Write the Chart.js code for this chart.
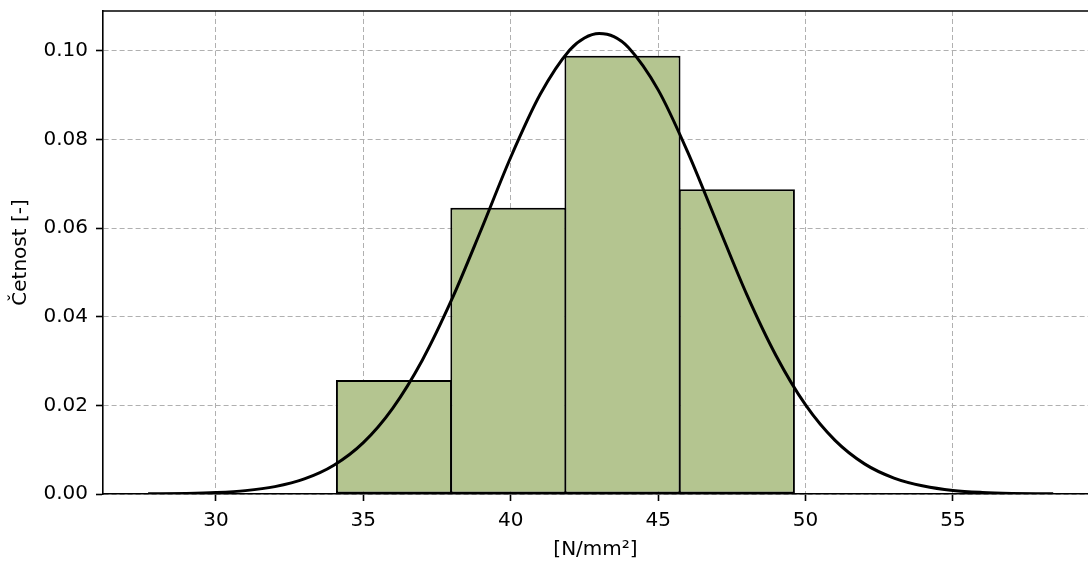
<!DOCTYPE html>
<html>
<head>
<meta charset="utf-8">
<script src="https://cdn.jsdelivr.net/npm/chart.js@4"></script>
<style>
  html, body { margin: 0; padding: 0; background: #fff; }
  #wrap { width: 1088px; height: 564px; position: relative; }
</style>
</head>
<body>
<div id="wrap"><canvas id="chart"></canvas></div>
<script>
/* ── Data ── */
// histogram bins: centres and relative frequency
const binCenters = [36.04, 39.92, 43.79, 47.67];
const binHeights = [0.0257, 0.0646, 0.0989, 0.0688];

// fitted density curve
const curveX = [27.7, 28, 29, 30, 31, 32, 33, 34, 35, 36, 37, 38, 39, 40, 41, 42, 42.5, 43,
                43.5, 44, 45, 46, 47, 48, 49, 50, 51, 52, 53, 54, 55, 56, 57, 58, 58.4];
const curveY = [0.00004, 0.00005, 0.00013, 0.00033, 0.00076, 0.00167, 0.00341, 0.0065, 0.0116,
                0.0194, 0.0302, 0.0439, 0.0597, 0.0760, 0.0902, 0.1002, 0.1029, 0.1039,
                0.1032, 0.1007, 0.0912, 0.0772, 0.0611, 0.0451, 0.0312, 0.0201, 0.0121,
                0.0068, 0.0036, 0.0018, 0.0008, 0.00035, 0.00014, 0.00005, 0.00003];

// axis ticks
const xTicks = [30, 35, 40, 45, 50, 55];
const yTicks = [0, 0.02, 0.04, 0.06, 0.08, 0.10];

const FONT = "'DejaVu Sans', sans-serif";

/* ── Top spine (matplotlib frame) ── */
const topSpine = {
  id: 'topSpine',
  afterDraw(chart) {
    const { ctx, chartArea } = chart;
    ctx.save();
    ctx.strokeStyle = '#000';
    ctx.lineWidth = 1.6;
    ctx.beginPath();
    ctx.moveTo(chartArea.left, chartArea.top);
    ctx.lineTo(chartArea.right, chartArea.top);
    ctx.stroke();
    ctx.restore();
  }
};

// no extra room for half labels at the ends, the plot area is fixed
function noPad(s) {
  s.paddingTop = 0; s.paddingBottom = 0;
  s.paddingLeft = 0; s.paddingRight = 0;
}

new Chart(document.getElementById('chart'), {
  type: 'bar',
  data: {
    datasets: [
      {
        type: 'line',
        data: curveX.map((x, i) => ({ x, y: curveY[i] })),
        borderColor: '#000',
        borderWidth: 3,
        pointRadius: 0,
        cubicInterpolationMode: 'monotone',
        fill: false,
        order: 0
      },
      {
        type: 'bar',
        data: binCenters.map((x, i) => ({ x, y: binHeights[i] })),
        backgroundColor: '#b4c590',
        borderColor: '#000',
        borderWidth: 2,
        borderSkipped: false,
        barPercentage: 1.0175,
        categoryPercentage: 1,
        order: 1
      }
    ]
  },
  options: {
    responsive: true,
    maintainAspectRatio: false,
    animation: false,
    layout: { padding: { top: 11, right: 0, left: 0, bottom: 0 } },
    plugins: { legend: { display: false }, tooltip: { enabled: false } },
    scales: {
      x: {
        type: 'linear',
        offset: false,
        min: 26.17,
        max: 59.58,
        afterBuildTicks: (s) => { s.ticks = xTicks.map(v => ({ value: v })); },
        afterFit: (s) => { s.height = 70; noPad(s); },
        grid: {
          offset: false,
          color: '#b0b0b0',
          lineWidth: 1,
          tickColor: '#000',
          tickLength: 7,
          tickWidth: 1.6
        },
        border: { display: true, color: '#000', width: 1.6, dash: [5, 3] },
        ticks: {
          color: '#000',
          padding: 8,
          maxRotation: 0,
          font: { family: FONT, size: 20 },
          callback: (v) => String(v)
        },
        title: {
          display: true,
          text: '[N/mm²]',
          color: '#000',
          font: { family: FONT, size: 20 },
          padding: { top: 0, bottom: 2 }
        }
      },
      y: {
        min: 0,
        max: 0.109,
        afterBuildTicks: (s) => { s.ticks = yTicks.map(v => ({ value: v })); },
        afterFit: (s) => { s.width = 103; noPad(s); },
        grid: {
          color: '#b0b0b0',
          lineWidth: 1,
          tickColor: '#000',
          tickLength: 7,
          tickWidth: 1.6
        },
        border: { display: true, color: '#000', width: 1.6, dash: [5, 3] },
        ticks: {
          color: '#000',
          padding: 8,
          font: { family: FONT, size: 20 },
          callback: (v) => v.toFixed(2)
        },
        title: {
          display: true,
          text: 'Četnost [-]',
          color: '#000',
          font: { family: FONT, size: 20 },
          padding: { top: 9, bottom: 0 }
        }
      }
    }
  },
  plugins: [topSpine]
});
</script>
</body>
</html>
